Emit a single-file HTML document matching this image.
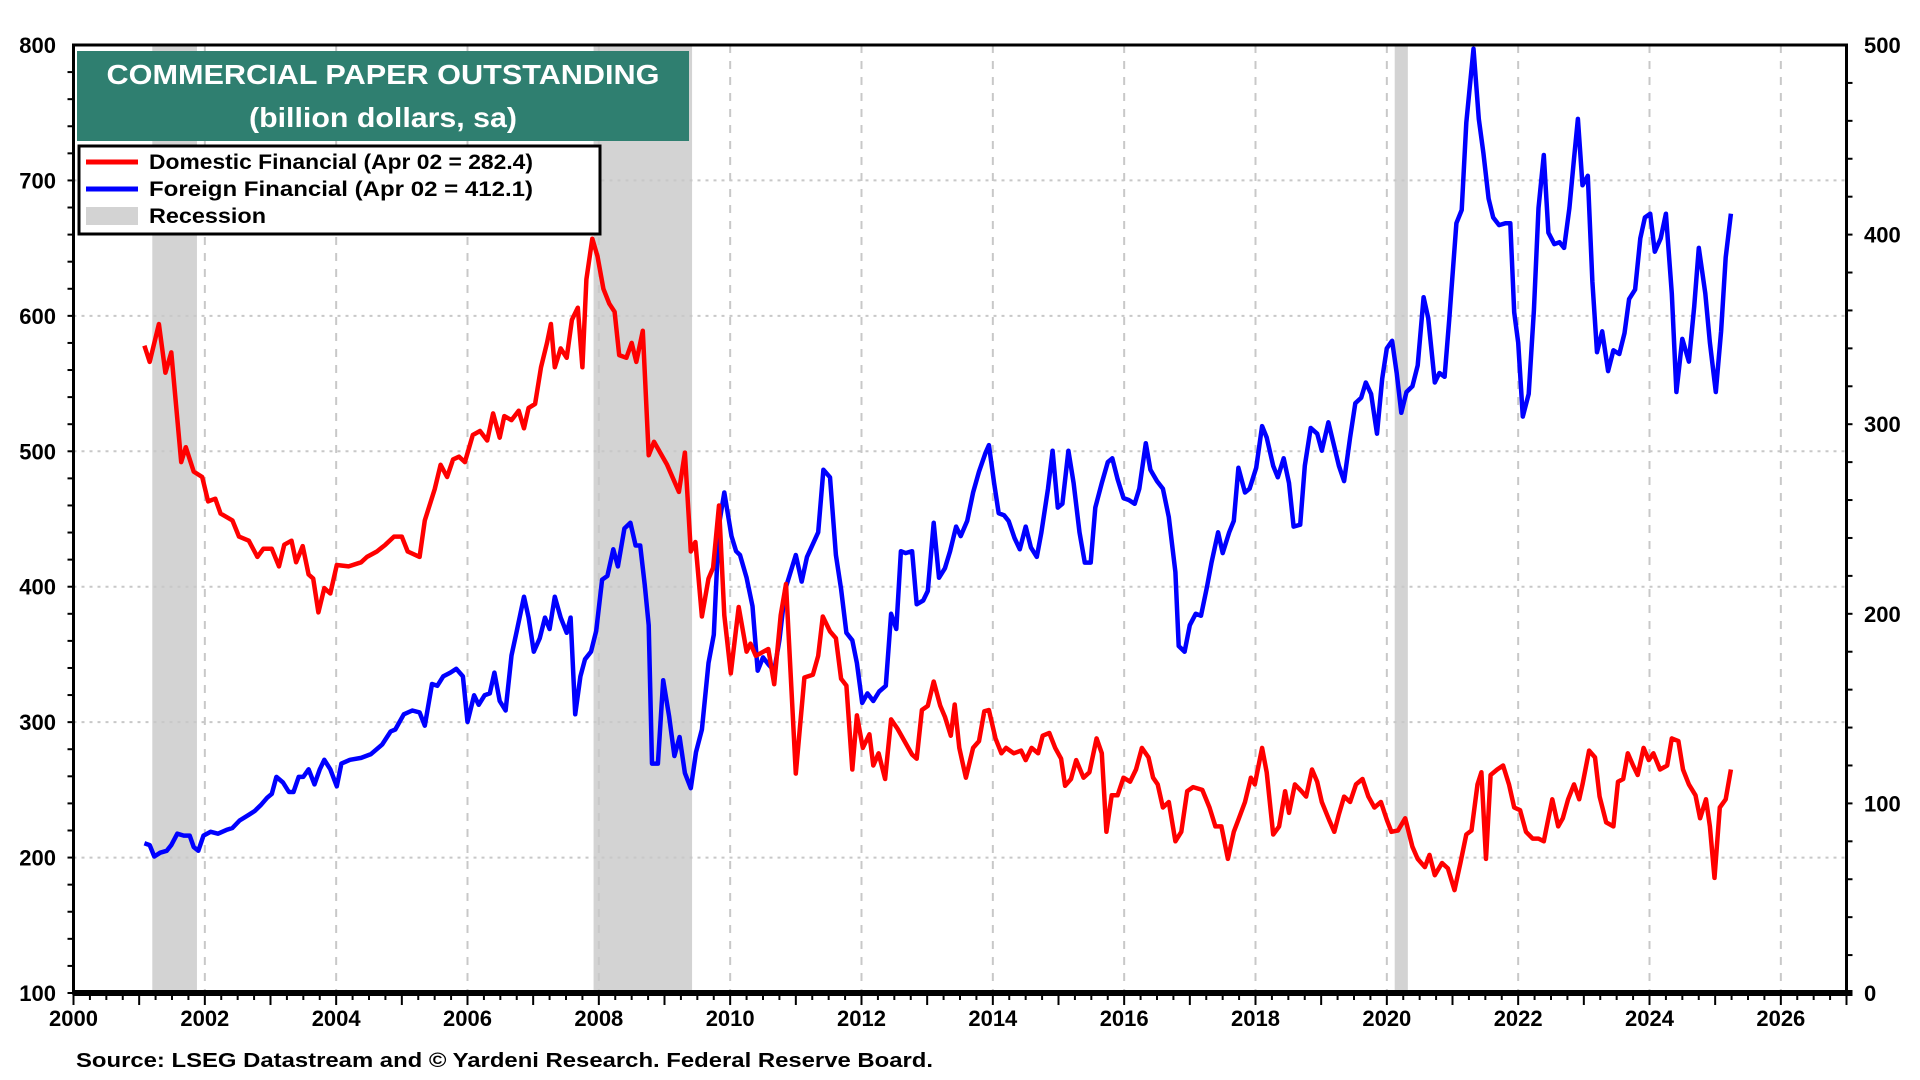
<!DOCTYPE html>
<html><head><meta charset="utf-8"><style>
html,body{margin:0;padding:0;background:#fff;}
svg{display:block;font-family:"Liberation Sans",Arial,sans-serif;font-weight:bold;}
</style></head><body>
<svg id="chart" width="1920" height="1080" viewBox="0 0 1920 1080">
<g id="bands"></g>
<g id="grid"></g>
<g id="series"></g>
<g id="axes"></g>
<g>
<rect x="77" y="51" width="612" height="90" fill="#2f7f70"/>
<text x="383" y="84" text-anchor="middle" font-size="28" fill="#fff" textLength="553" lengthAdjust="spacingAndGlyphs">COMMERCIAL PAPER OUTSTANDING</text>
<text x="383" y="127" text-anchor="middle" font-size="28" fill="#fff" textLength="268" lengthAdjust="spacingAndGlyphs">(billion dollars, sa)</text>
</g>
<g>
<rect x="79" y="146" width="521" height="88" fill="#fff" stroke="#000" stroke-width="3"/>
<g><line x1="86" y1="162" x2="138" y2="162" stroke="#ff0000" stroke-width="5"/><text x="149" y="169" font-size="21" textLength="384" lengthAdjust="spacingAndGlyphs">Domestic Financial  (Apr 02 = 282.4)</text></g>
<g><line x1="86" y1="189" x2="138" y2="189" stroke="#0000ff" stroke-width="5"/><text x="149" y="196" font-size="21" textLength="384" lengthAdjust="spacingAndGlyphs">Foreign Financial (Apr 02 = 412.1)</text></g>
<g><rect x="86" y="207" width="52" height="18" fill="#d3d3d3"/><text x="149" y="223" font-size="21" textLength="117" lengthAdjust="spacingAndGlyphs">Recession</text></g>
</g>
<text x="76" y="1067" font-size="20" textLength="857" lengthAdjust="spacingAndGlyphs">Source: LSEG Datastream and © Yardeni Research. Federal Reserve Board.</text>
</svg>
<script>
const recessions=[[2001.2,2001.88],[2007.92,2009.42],[2020.12,2020.32]];
const leftTicks=[100,200,300,400,500,600,700,800];
const rightTicks=[0,100,200,300,400,500];
const xTicks=[2000,2002,2004,2006,2008,2010,2012,2014,2016,2018,2020,2022,2024,2026];
const domDates=[2001.08,2001.16,2001.30,2001.40,2001.49,2001.64,2001.71,2001.83,2001.96,2002.05,2002.16,2002.24,2002.42,2002.52,2002.67,2002.80,2002.89,2003.02,2003.13,2003.21,2003.32,2003.39,2003.49,2003.58,2003.65,2003.73,2003.82,2003.91,2004.01,2004.19,2004.38,2004.47,2004.62,2004.75,2004.88,2005.00,2005.09,2005.27,2005.35,2005.50,2005.59,2005.69,2005.78,2005.87,2005.96,2006.08,2006.19,2006.30,2006.39,2006.49,2006.56,2006.67,2006.78,2006.86,2006.93,2007.03,2007.12,2007.21,2007.27,2007.33,2007.42,2007.51,2007.59,2007.68,2007.75,2007.81,2007.90,2007.98,2008.07,2008.16,2008.24,2008.31,2008.42,2008.50,2008.57,2008.67,
2008.76,2008.84,2009.04,2009.22,2009.31,2009.40,2009.47,2009.57,2009.67,2009.74,2009.83,2009.91,2010.01,2010.13,2010.25,2010.31,2010.39,2010.58,2010.67,2010.77,2010.85,2011.00,2011.13,2011.26,2011.34,2011.41,2011.52,2011.61,2011.69,2011.77,2011.86,2011.93,2012.02,2012.12,2012.18,2012.26,2012.36,2012.45,2012.55,
2012.77,2012.84,2012.92,2013.01,2013.10,2013.20,2013.27,2013.36,2013.42,2013.49,2013.59,2013.70,2013.79,2013.87,2013.94,2014.04,2014.13,2014.20,2014.32,2014.43,2014.50,2014.59,2014.69,2014.76,2014.86,2014.95,2015.04,2015.10,2015.19,2015.27,2015.38,2015.47,2015.58,2015.66,2015.73,2015.81,2015.90,2015.99,2016.09,2016.18,2016.27,2016.37,2016.44,2016.51,2016.59,2016.68,2016.78,2016.87,2016.96,2017.05,2017.19,2017.30,2017.39,2017.48,2017.58,2017.67,2017.74,2017.84,2017.93,2017.99,2018.10,2018.17,2018.27,2018.36,2018.45,2018.51,2018.60,2018.70,2018.77,2018.86,2018.94,2019.01,2019.12,2019.20,2019.27,2019.35,2019.44,2019.53,2019.63,2019.72,2019.81,2019.91,2020.00,2020.07,2020.17,2020.28,2020.39,2020.47,2020.58,2020.65,2020.73,2020.84,2020.93,2021.03,2021.12,2021.21,2021.29,2021.38,2021.44,2021.51,2021.58,2021.68,2021.77,2021.86,2021.94,2022.03,2022.12,2022.22,2022.31,2022.39,2022.46,2022.52,2022.61,2022.68,2022.76,2022.85,2022.93,2022.98,2023.08,2023.17,2023.24,2023.34,2023.45,2023.52,2023.60,2023.67,2023.75,2023.82,2023.91,2023.99,2024.06,2024.16,2024.27,2024.34,2024.44,2024.51,2024.60,2024.70,2024.77,2024.86,2024.92,2024.99,2025.07,2025.16,2025.24];
const domValues=[578,566,594,558,573,492,503,485,481,463,465,454,449,437,434,422,428,428,415,431,434,418,430,409,406,381,399,395,416,415,418,422,426,431,437,437,426,422,449,472,490,481,494,496,492,512,515,508,528,510,526,523,530,517,532,535,562,580,594,562,576,569,597,606,562,627,657,644,620,609,603,571,569,580,566,589,
497,507,490,470,499,426,433,378,406,414,460,379,336,385,352,358,349,354,328,379,402,262,333,335,349,378,367,362,332,327,265,305,281,291,268,277,258,302,295,
276,273,309,312,330,312,304,290,313,281,259,281,286,308,309,288,277,281,277,279,272,281,277,290,292,281,273,253,258,272,259,263,288,277,219,246,246,259,256,265,281,274,259,254,237,241,212,219,249,252,250,237,223,223,199,219,228,241,259,254,281,263,217,223,249,233,254,249,245,265,256,241,228,219,232,245,241,254,258,245,237,241,228,219,220,229,208,199,193,202,187,196,192,176,196,217,220,254,263,199,261,265,268,254,237,235,219,214,214,212,229,243,223,229,243,254,243,254,279,274,245,226,223,256,258,277,268,261,281,272,277,265,268,288,286,265,254,246,229,243,223,185,237,243,265];
const forDates=[2001.08,2001.16,2001.23,2001.32,2001.42,2001.49,2001.58,2001.68,2001.77,2001.83,2001.90,2001.98,2002.09,2002.20,2002.33,2002.42,2002.53,2002.67,2002.76,2002.85,2002.95,2003.02,2003.09,2003.19,2003.28,2003.35,2003.43,2003.50,2003.58,2003.67,2003.75,2003.82,2003.91,2004.01,2004.08,2004.21,2004.38,2004.53,2004.70,2004.83,2004.90,2005.03,2005.16,2005.27,2005.35,2005.46,2005.54,2005.63,2005.74,2005.83,2005.93,2006.00,2006.10,2006.17,2006.26,2006.34,2006.41,2006.49,2006.58,2006.67,2006.75,2006.86,2006.93,2007.01,2007.10,2007.18,2007.25,2007.33,2007.42,2007.51,2007.57,2007.64,2007.72,2007.79,2007.88,2007.96,2008.05,2008.13,2008.22,2008.29,2008.39,2008.48,2008.56,2008.63,2008.70,
2008.76,2008.81,2008.90,2008.98,2009.07,2009.15,2009.23,2009.31,2009.40,2009.48,2009.57,2009.67,2009.75,2009.83,2009.91,2010.02,2010.09,2010.15,2010.25,2010.34,2010.42,2010.50,2010.59,2010.67,2010.75,2010.84,2011.00,2011.09,2011.17,2011.34,2011.42,2011.52,2011.61,2011.69,2011.77,2011.86,2011.93,2012.01,2012.09,2012.18,2012.27,2012.37,2012.45,2012.53,2012.60,
2012.67,2012.77,2012.84,2012.94,2013.01,2013.10,2013.18,2013.27,2013.35,2013.44,2013.51,2013.61,2013.70,2013.79,2013.89,2013.94,2014.02,2014.09,2014.17,2014.24,2014.33,2014.41,2014.50,2014.58,2014.67,2014.74,2014.84,2014.91,2014.99,2015.06,2015.15,2015.23,2015.32,2015.40,2015.49,2015.56,2015.66,2015.75,2015.82,2015.90,2015.99,2016.07,2016.16,2016.23,2016.33,2016.40,2016.50,2016.59,2016.68,2016.78,2016.83,2016.92,2017.00,2017.09,2017.17,2017.26,2017.33,2017.43,2017.50,2017.60,2017.67,2017.74,2017.84,2017.91,2018.01,2018.10,2018.17,2018.27,2018.34,2018.43,2018.51,2018.58,2018.68,2018.75,2018.84,2018.94,2019.01,2019.11,2019.18,2019.27,2019.35,2019.44,2019.52,2019.61,2019.68,2019.76,2019.85,2019.93,2020.00,2020.08,2020.15,2020.22,2020.30,2020.39,2020.47,2020.56,2020.63,2020.73,2020.80,2020.88,2020.95,2021.06,2021.14,2021.21,2021.32,2021.40,2021.47,2021.55,2021.62,2021.71,2021.81,2021.88,2021.94,2022.00,2022.07,2022.16,2022.24,2022.31,2022.39,2022.46,2022.55,2022.63,2022.70,2022.78,2022.85,2022.91,2022.98,2023.06,2023.13,2023.20,2023.28,2023.37,2023.45,2023.54,2023.62,2023.69,2023.78,2023.86,2023.93,2024.01,2024.08,2024.17,2024.25,2024.34,2024.41,2024.50,2024.60,2024.68,2024.75,2024.85,2024.92,2025.01,2025.09,2025.16,2025.24];
const forValues=[79,78,72,74,75,78,84,83,83,77,75,83,85,84,86,87,91,94,96,99,103,105,114,111,106,106,114,114,118,110,118,123,118,109,121,123,124,126,131,138,139,147,149,148,141,163,162,167,169,171,167,143,157,152,157,158,169,154,149,178,191,209,198,180,187,198,192,209,198,190,198,147,167,176,180,191,218,220,234,225,245,248,236,236,215,
194,121,121,165,146,125,135,116,108,127,139,174,189,247,264,241,233,231,219,204,170,177,173,170,186,213,231,217,230,243,276,272,231,213,190,186,174,153,158,154,159,162,200,192,233,
232,233,205,207,212,248,219,224,233,246,241,249,264,275,285,289,269,253,252,249,240,234,246,235,230,243,266,286,256,258,286,269,243,227,227,256,269,280,282,271,261,260,258,266,290,276,270,266,251,222,183,180,194,200,199,214,227,243,232,243,249,277,264,266,277,299,293,278,272,282,269,246,247,278,298,295,286,301,291,278,270,293,311,314,322,316,295,324,340,344,327,306,317,320,331,367,356,322,327,325,355,406,413,459,498,461,443,419,409,405,406,406,359,343,304,316,360,414,442,401,395,396,393,414,440,461,426,431,375,338,349,328,339,337,348,366,371,398,409,411,391,398,411,369,317,345,333,362,393,369,343,317,349,388,411];

const NS="http://www.w3.org/2000/svg";
const X0=73.5,X1=1846.5,YT=45,YB=993;
function xs(d){return X0+(d-2000)/27*(X1-X0);}
function yl(v){return YB-(v-100)/700*(YB-YT);}
function yr(v){return YB-v/500*(YB-YT);}
function mk(tag,attrs,parent){const e=document.createElementNS(NS,tag);for(const k in attrs)e.setAttribute(k,attrs[k]);parent.appendChild(e);return e;}
const bands=document.getElementById('bands'),grid=document.getElementById('grid'),series=document.getElementById('series'),axes=document.getElementById('axes');
recessions.forEach(r=>{const e=mk('rect',{x:xs(r[0]),y:YT,width:xs(r[1])-xs(r[0]),height:YB-YT,fill:'#d3d3d3'},bands);

});
leftTicks.forEach(t=>{if(t>100&&t<800){const e=mk('line',{x1:X0,x2:X1,y1:yl(t),y2:yl(t),stroke:'#c8c8c8','stroke-width':2,'stroke-dasharray':'3,5'},grid);

}
const l=mk('text',{x:56,y:yl(t)+8,'text-anchor':'end','font-size':22},axes);l.textContent=t;

});
for(let v=100;v<800;v+=20){mk('line',{x1:X0-6,x2:X0,y1:yl(v),y2:yl(v),stroke:'#000','stroke-width':2},axes);}
for(let v=0;v<500;v+=20){mk('line',{x1:X1,x2:X1+6,y1:yr(v),y2:yr(v),stroke:'#000','stroke-width':2},axes);}
rightTicks.forEach(t=>{const l=mk('text',{x:1864,y:yr(t)+8,'font-size':22},axes);l.textContent=t;

});
xTicks.forEach(t=>{if(t>2000){const e=mk('line',{x1:xs(t),x2:xs(t),y1:YT,y2:YB,stroke:'#c8c8c8','stroke-width':2,'stroke-dasharray':'8,8'},grid);

}
const l=mk('text',{x:xs(t),y:1026,'text-anchor':'middle','font-size':22},axes);l.textContent=t;

});
for(let q=2000;q<=2027;q+=0.25){mk('line',{x1:xs(q),x2:xs(q),y1:YB,y2:YB+(Number.isInteger(q)?12:7),stroke:'#000','stroke-width':2},axes);}
function path(dates,vals,scale,color,name){let d='';dates.forEach((t,i)=>{d+=(i?'L':'M')+xs(t).toFixed(1)+','+scale(vals[i]).toFixed(1);});
const p=mk('path',{d:d,fill:'none',stroke:color,'stroke-width':4.5,'stroke-linejoin':'round'},series);

}
path(forDates,forValues,yr,'#0000ff','foreign-financial-line');
path(domDates,domValues,yl,'#ff0000','domestic-financial-line');
const fr=mk('rect',{x:X0,y:YT,width:X1-X0,height:YB-YT,fill:'none',stroke:'#000','stroke-width':3},axes);


const bx=mk('line',{x1:X0,x2:X1+6,y1:YB,y2:YB,stroke:'#000','stroke-width':6},axes);


</script>
</body></html>
